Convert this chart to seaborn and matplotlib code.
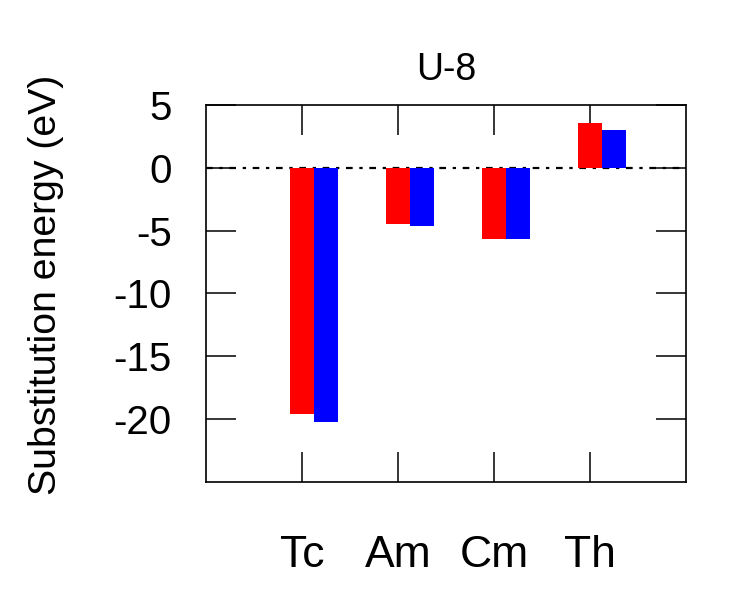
import matplotlib
matplotlib.use("Agg")
import matplotlib.pyplot as plt
import seaborn as sns
import pandas as pd

categories = ["Tc", "Am", "Cm", "Th"]
series_red = [-19.6, -4.5, -5.7, 3.55]
series_blue = [-20.2, -4.6, -5.7, 3.0]
series_names = ["A", "B"]
yticks = [5, 0, -5, -10, -15, -20]
title = "U-8"
ylabel = "Substitution energy (eV)"

sns.set_theme(style="white")
plt.rcParams['font.family'] = ['Liberation Sans', 'DejaVu Sans']
plt.rcParams['text.color'] = 'black'
plt.rcParams['axes.labelcolor'] = 'black'
plt.rcParams['xtick.color'] = 'black'
plt.rcParams['ytick.color'] = 'black'

df = pd.DataFrame({
    "element": categories * 2,
    "energy": series_red + series_blue,
    "series": [series_names[0]] * 4 + [series_names[1]] * 4,
})

fig = plt.figure(figsize=(7.56, 5.94), dpi=100)
ax = fig.add_axes([206/756, 1 - 482/594, 480/756, 377/594])

sns.barplot(data=df, x="element", y="energy", hue="series", order=categories,
            hue_order=series_names, palette=["#ff0000", "#0000ff"],
            width=0.5, dodge=True, errorbar=None, legend=False,
            saturation=1, linewidth=0, ax=ax)

ax.axhline(0, color="black", lw=1.6, linestyle=(0, (3, 3, 1.5, 3)), zorder=0.5)

off = 0.125
ax.set_xticks([i - off for i in range(len(categories))])
ax.set_xticklabels(categories)
ax.set_xlim(-1 - off, len(categories) - off)
ax.set_ylim(-25, 5)
ax.set_yticks(yticks)
ax.set_yticklabels([str(v) for v in yticks])

ax.set_xlabel("")
ax.set_ylabel(ylabel, fontsize=28.3, color="black")
ax.yaxis.set_label_coords(-0.295, 0.524)
ax.set_title(title, fontsize=27, pad=18, color="black")

ax.tick_params(axis="both", direction="in", length=21.5, width=1.1,
               top=True, right=True, bottom=True, left=True, color="black",
               labelcolor="black")
ax.tick_params(axis="x", labelsize=32, pad=38.5)
ax.tick_params(axis="y", labelsize=29, pad=24.5)
for s in ax.spines.values():
    s.set_visible(True)
    s.set_color("black")
    s.set_linewidth(1.2)

fig.savefig("out.png", dpi=100)
